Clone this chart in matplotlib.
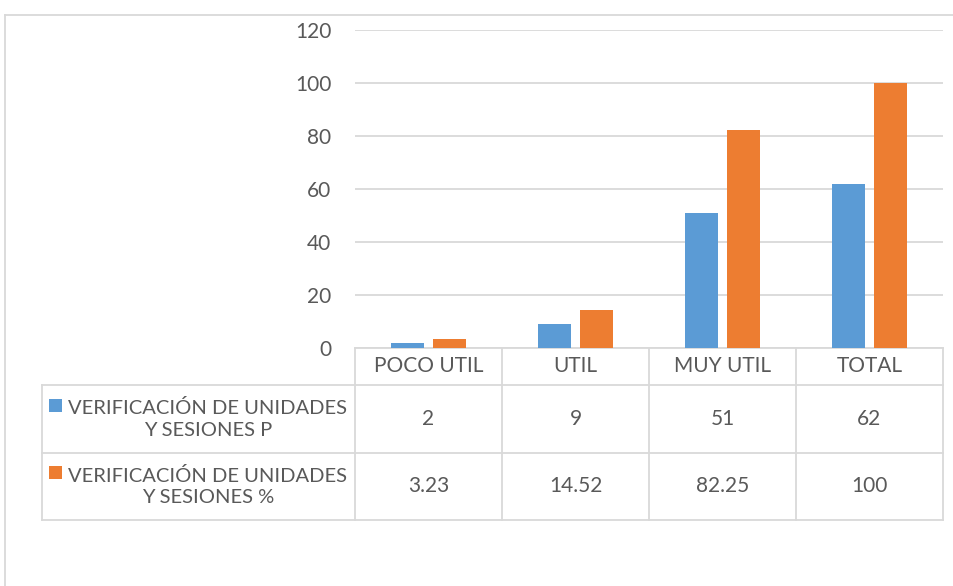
import matplotlib
matplotlib.use("Agg")
import matplotlib.pyplot as plt
from matplotlib.patches import Rectangle
from matplotlib.lines import Line2D

categories = ["POCO UTIL", "UTIL", "MUY UTIL", "TOTAL"]
series_names = ["VERIFICACIÓN DE UNIDADES\nY SESIONES P",
                "VERIFICACIÓN DE UNIDADES\nY SESIONES %"]
values_p = [2, 9, 51, 62]
values_pct = [3.23, 14.52, 82.25, 100]
value_labels_p = ["2", "9", "51", "62"]
value_labels_pct = ["3.23", "14.52", "82.25", "100"]
yticks = [0, 20, 40, 60, 80, 100, 120]

BLUE = "#5B9BD5"
ORANGE = "#ED7D31"
GRID = "#D9D9D9"
TXT = "#595959"
FONT = "Lato"
FS = 15

W, H = 954, 586
fig = plt.figure(figsize=(W / 100, H / 100), dpi=100)

# overlay axes in pixel coordinates for the table and frame
ov = fig.add_axes([0, 0, 1, 1])
ov.set_xlim(0, W)
ov.set_ylim(H, 0)
ov.axis("off")

x0, x1 = 355, 943
y_top, y_zero = 30, 348
ax = fig.add_axes([x0 / W, 1 - y_zero / H, (x1 - x0) / W, (y_zero - y_top) / H])
ax.set_zorder(2)
ax.patch.set_alpha(0)

n = len(categories)
xs = list(range(n))
bw = 0.225
off = 0.143
ax.bar([x - off for x in xs], values_p, width=bw, color=BLUE, zorder=3)
ax.bar([x + off for x in xs], values_pct, width=bw, color=ORANGE, zorder=3)
ax.set_xlim(-0.5, n - 0.5)
ax.set_ylim(0, 120)
ax.set_yticks(yticks)
ax.set_yticklabels([str(t) for t in yticks], fontfamily=FONT, fontsize=FS, color=TXT)
ax.tick_params(axis="y", length=0, pad=17)
ax.set_xticks([])
ax.grid(axis="y", color=GRID, linewidth=1.3, zorder=0)
for s in ax.spines.values():
    s.set_visible(False)

# table geometry (pixels)
col_w = (x1 - x0) / n
cols = [x0 + i * col_w for i in range(n + 1)]
ty0, ty1, ty2, ty3 = 348, 385, 453, 520
lx = 42
lc = dict(color=GRID, linewidth=1.3)
ov.add_line(Line2D([x0, x1], [ty0, ty0], **lc))
for y in (ty1, ty2, ty3):
    ov.add_line(Line2D([lx, x1], [y, y], **lc))
for x in cols:
    ov.add_line(Line2D([x, x], [ty0, ty3], **lc))
ov.add_line(Line2D([lx, lx], [ty1, ty3], **lc))

# outer frame
fc = dict(color="#D9D9D9", linewidth=1.3)
ov.add_line(Line2D([5, W], [15, 15], **fc))
ov.add_line(Line2D([5, 5], [15, H], **fc))

tk = dict(fontfamily=FONT, fontsize=FS, color=TXT, ha="center", va="center")
for i, c in enumerate(categories):
    cx = (cols[i] + cols[i + 1]) / 2
    ov.text(cx, (ty0 + ty1) / 2, c, **tk)
    ov.text(cx, (ty1 + ty2) / 2, value_labels_p[i], **tk)
    ov.text(cx, (ty2 + ty3) / 2, value_labels_pct[i], **tk)

# row labels with legend keys
for (ra, rb), name, col in (((ty1, ty2), series_names[0], BLUE),
                            ((ty2, ty3), series_names[1], ORANGE)):
    cy = (ra + rb) / 2
    ov.text(208, cy, name, fontfamily=FONT, fontsize=14.5, color=TXT,
            ha="center", va="center", linespacing=1.3, multialignment="center")
    ov.add_patch(Rectangle((49, cy - 14 - 6.5), 13, 13, color=col, linewidth=0))

fig.savefig("out.png", dpi=100)
